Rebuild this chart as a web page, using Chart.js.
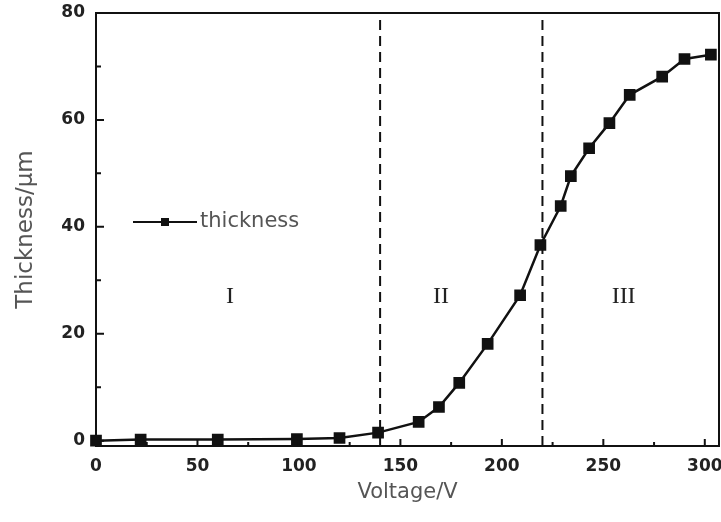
<!DOCTYPE html>
<html>
<head>
<meta charset="utf-8">
<script src="https://cdn.jsdelivr.net/npm/chart.js@4"></script>
<style>
  html, body { margin: 0; padding: 0; background: #fff; }
  #wrap { width: 721px; height: 522px; }
</style>
</head>
<body>
<div id="wrap"><canvas id="myChart"></canvas></div>
<script>
// values
const voltage = [0, 22, 60, 99, 120, 139, 159, 169, 179, 193, 209, 219, 229, 234, 243, 253, 263, 279, 290, 303];
const thickness = [0, 0.2, 0.2, 0.3, 0.5, 1.5, 3.5, 6.3, 10.8, 18.1, 27.2, 36.6, 43.9, 49.5, 54.7, 59.4, 64.7, 68.1, 71.4, 72.2];
const boundaries = [140, 220];
const regionNames = ['I', 'II', 'III'];
const regionX = [66, 170, 260];
const regionY = 27;
const xTicks = [0, 50, 100, 150, 200, 250, 300];
const yTicks = [0, 20, 40, 60, 80];

const points = voltage.map((v, i) => ({ x: v, y: thickness[i] }));

const dashed = boundaries.map(b => ({
  data: [{ x: b, y: -1 }, { x: b, y: 80 }],
  borderColor: '#111',
  borderWidth: 2,
  borderDash: [10, 6],
  pointRadius: 0,
  showLine: true,
}));

// inward ticks, frame, region labels and legend
const extras = {
  id: 'extras',
  afterDatasetsDraw(chart) {
    const ctx = chart.ctx;
    const { left, right, top, bottom } = chart.chartArea;
    const xs = chart.scales.x, ys = chart.scales.y;
    ctx.save();
    ctx.strokeStyle = '#111';
    ctx.lineWidth = 2;
    ctx.strokeRect(left, top, right - left, bottom - top);

    ctx.beginPath();
    for (let v = 0; v <= 300; v += 25) {
      const px = xs.getPixelForValue(v);
      const len = v % 50 === 0 ? 7 : 4;
      ctx.moveTo(px, bottom);
      ctx.lineTo(px, bottom - len);
    }
    for (let v = 0; v <= 80; v += 10) {
      const py = ys.getPixelForValue(v);
      const len = v % 20 === 0 ? 8 : 5;
      ctx.moveTo(left, py);
      ctx.lineTo(left + len, py);
    }
    ctx.stroke();

    ctx.fillStyle = '#222';
    ctx.font = '24px "Liberation Serif"';
    ctx.textAlign = 'center';
    ctx.textBaseline = 'middle';
    regionNames.forEach((n, i) => {
      ctx.fillText(n, xs.getPixelForValue(regionX[i]), ys.getPixelForValue(regionY));
    });

    // legend
    const ly = top + 209, lx = left + 37;
    ctx.beginPath();
    ctx.moveTo(lx, ly);
    ctx.lineTo(lx + 64, ly);
    ctx.stroke();
    ctx.fillStyle = '#111';
    ctx.fillRect(lx + 28, ly - 4, 8, 8);
    ctx.fillStyle = '#555';
    ctx.font = '21px "DejaVu Sans"';
    ctx.textAlign = 'left';
    ctx.fillText('thickness', lx + 67, ly);
    ctx.restore();
  }
};

const ctx = document.getElementById('myChart').getContext('2d');
const chart = new Chart(ctx, {
  type: 'scatter',
  data: {
    datasets: [{
      label: 'thickness',
      data: points,
      showLine: true,
      borderColor: '#111',
      backgroundColor: '#111',
      borderWidth: 2.5,
      pointStyle: 'rect',
      pointRadius: 6.5,
      pointHoverRadius: 6.5,
      clip: false,
    }, ...dashed]
  },
  options: {
    responsive: true,
    maintainAspectRatio: false,
    animation: false,
    layout: { autoPadding: false, padding: { top: 13, right: 2, left: 0, bottom: 0 } },
    plugins: { legend: { display: false }, tooltip: { enabled: false } },
    scales: {
      x: {
        type: 'linear',
        min: 0,
        max: 307,
        afterBuildTicks: s => { s.ticks = xTicks.map(v => ({ value: v })); },
        afterFit: s => { s.height = 76; s.paddingLeft = 0; s.paddingRight = 0; },
        grid: { display: false, drawTicks: false },
        border: { display: true, color: '#111', width: 2 },
        ticks: { color: '#222', padding: 10, font: { family: 'DejaVu Sans', size: 17, weight: 'bold' } },
        title: { display: true, text: 'Voltage/V', color: '#555', padding: { bottom: 17 }, font: { family: 'DejaVu Sans', size: 21 } }
      },
      y: {
        type: 'linear',
        min: -1,
        max: 80,
        afterBuildTicks: s => { s.ticks = yTicks.map(v => ({ value: v })); },
        afterFit: s => { s.width = 96; s.paddingTop = 0; s.paddingBottom = 0; },
        grid: { display: false, drawTicks: false },
        border: { display: true, color: '#111', width: 2 },
        ticks: { color: '#222', padding: 11, font: { family: 'DejaVu Sans', size: 17, weight: 'bold' } },
        title: { display: true, text: 'Thickness/μm', color: '#555', padding: { top: 12 }, font: { family: 'DejaVu Sans', size: 23 } }
      }
    }
  },
  plugins: [extras]
});
</script>
</body>
</html>
